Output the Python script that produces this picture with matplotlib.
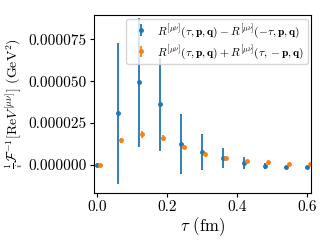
import numpy as np
import matplotlib
matplotlib.use("Agg")
from matplotlib import pyplot as plt

plt.rcParams["font.family"] = "serif"
plt.rcParams["font.serif"] = ["cmr10", "DejaVu Serif"]
plt.rcParams["mathtext.fontset"] = "cm"
plt.rcParams["axes.formatter.use_mathtext"] = True
plt.rcParams["axes.unicode_minus"] = False

tau = [0.00, 0.06, 0.12, 0.18, 0.24, 0.30, 0.36, 0.42, 0.48, 0.54, 0.60]
tau_shift = [0.01, 0.07, 0.13, 0.19, 0.25, 0.31, 0.37, 0.43, 0.49, 0.55, 0.61]

# values in units of 1e-6 GeV^2
diff_vals = [0.0, 30.8, 49.3, 36.2, 12.5, 8.0, 4.2, 1.2, -0.4, -1.0, -1.2]
diff_errs = [0.2, 42.0, 38.4, 27.6, 17.8, 10.7, 6.2, 3.6, 1.8, 0.5, 0.5]
sum_vals = [0.0, 14.9, 18.3, 16.1, 10.5, 6.6, 4.4, 2.6, 1.6, 0.8, 0.4]
sum_errs = [0.1, 1.5, 2.0, 1.8, 1.2, 0.8, 0.6, 0.5, 0.4, 0.3, 0.3]

scale = 1e-6

fig = plt.figure(figsize=(3.2, 2.4), dpi=100)
ax = fig.add_axes([0.294, 0.196, 0.678, 0.741])

ax.errorbar(tau, np.array(diff_vals) * scale, yerr=np.array(diff_errs) * scale,
            fmt=".", color="C0", markersize=5, elinewidth=1.3,
            label=r"$R^{[\mu\nu]}(\tau,\mathbf{p},\mathbf{q})-R^{[\mu\nu]}(-\tau,\mathbf{p},\mathbf{q})$")
ax.errorbar(tau_shift, np.array(sum_vals) * scale, yerr=np.array(sum_errs) * scale,
            fmt=".", color="C1", markersize=5, elinewidth=1.3,
            label=r"$R^{[\mu\nu]}(\tau,\mathbf{p},\mathbf{q})+R^{[\mu\nu]}(\tau,-\mathbf{p},\mathbf{q})$")

ax.set_xlim(-0.008, 0.612)
ax.set_ylim(-16.7e-6, 89.5e-6)
ax.set_xticks([0.0, 0.2, 0.4, 0.6])
ax.set_yticks([0.0, 25e-6, 50e-6, 75e-6])
ax.set_yticklabels(["0.000000", "0.000025", "0.000050", "0.000075"])
ax.set_xticklabels(["0.0", "0.2", "0.4", "0.6"])
ax.tick_params(axis="both", labelsize=11, length=3, pad=2.5)

ax.set_xlabel(r"$\tau$ (fm)", fontsize=12, labelpad=1)
ax.set_ylabel(r"$\frac{1}{i}\mathcal{F}^{-1}[\mathrm{Re}V^{[\mu\nu]}]$ (GeV$^2$)", fontsize=10)
ax.yaxis.set_label_coords(-0.32, 0.5)

ax.legend(loc="upper right", fontsize=8.2, borderpad=0.3, handletextpad=0.4,
          borderaxespad=0.3, labelspacing=0.3)

fig.savefig("out.png", dpi=100)
